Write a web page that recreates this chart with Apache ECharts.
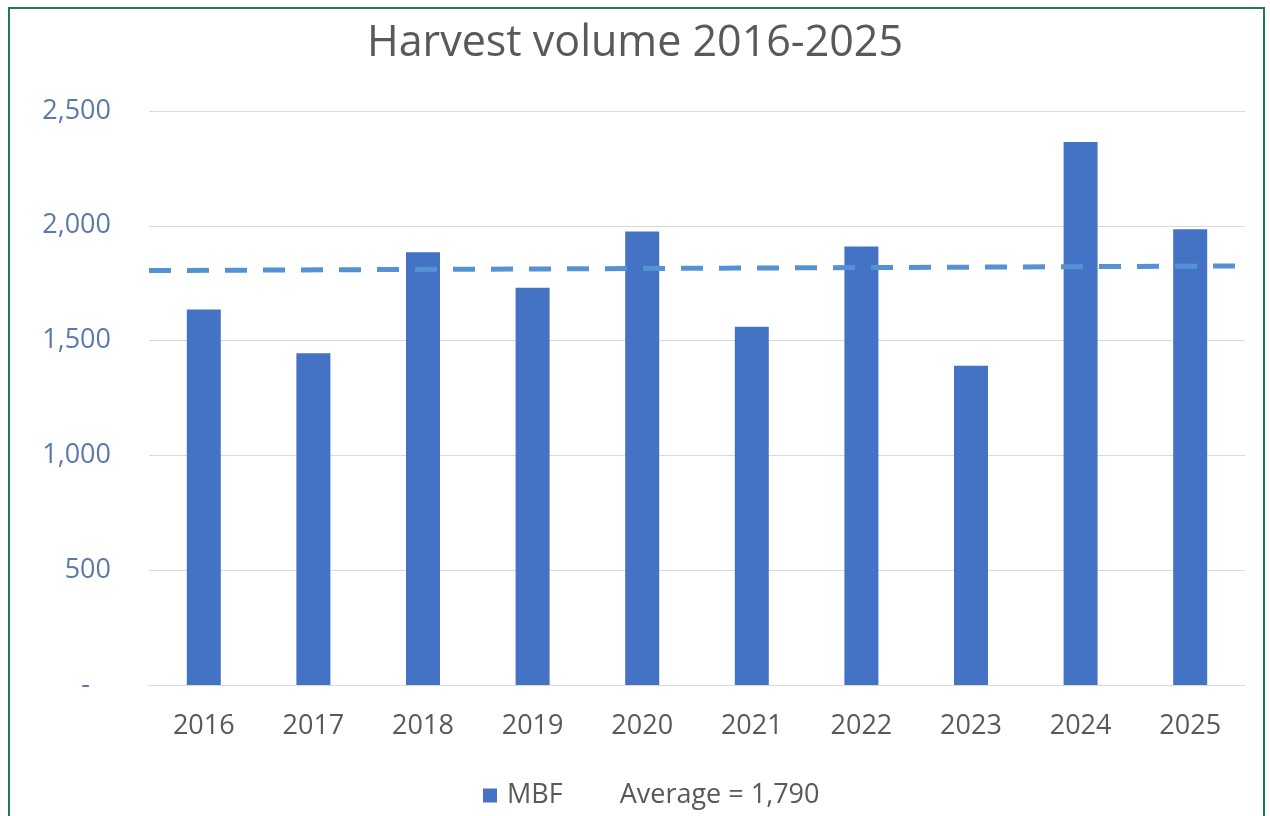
<!DOCTYPE html>
<html>
<head>
<meta charset="utf-8">
<script src="https://cdn.jsdelivr.net/npm/echarts@6/dist/echarts.min.js"></script>
<style>
	html, body { margin: 0; padding: 0; background: #fff; }
	#frame { position: absolute; left: 8px; top: 7px; width: 1257px; height: 830px; border: 2px solid #1f7a5c; box-sizing: border-box; }
	#chart { position: absolute; left: 0; top: 0; width: 1270px; height: 816px; }
</style>
</head>
<body>
<div id="frame"></div>
<div id="chart"></div>
<script>
	// years on the x axis
	var years = ['2016', '2017', '2018', '2019', '2020', '2021', '2022', '2023', '2024', '2025'];
	// harvest volume, MBF
	var volume = [1635, 1445, 1885, 1730, 1975, 1560, 1910, 1390, 2365, 1985];
	// dashed average line, read at the left and right edge of the plot
	var avgEnds = ['start', 'end'];
	var avgLine = [1805, 1825];
	var yTicks = [0, 500, 1000, 1500, 2000, 2500];

	var chart = echarts.init(document.getElementById('chart'));
	var font = '"Open Sans", "Noto Sans", sans-serif';

	chart.setOption({
		animation: false,
		textStyle: { fontFamily: font },
		title: {
			text: 'Harvest volume 2016-2025',
			left: 'center',
			top: 17,
			textStyle: { fontFamily: font, fontSize: 43, fontWeight: 'normal', color: '#595959' }
		},
		legend: {
			bottom: 2,
			left: 478,
			itemGap: 33,
			itemWidth: 14,
			itemHeight: 14,
			textStyle: { fontFamily: font, fontSize: 27, color: '#595959', padding: [0, 0, 0, 5] },
			data: [
				{ name: 'MBF', icon: 'rect' },
				{ name: 'Average = 1,790', icon: 'none' }
			]
		},
		grid: { left: 149, right: 25, top: 111, bottom: 131 },
		xAxis: [{
			type: 'category',
			data: years,
			axisLine: { lineStyle: { color: '#d9d9d9', width: 1 } },
			axisTick: { show: false },
			axisLabel: { fontFamily: font, fontSize: 27, color: '#595959', margin: 28 }
		}, {
			type: 'category',
			data: avgEnds,
			boundaryGap: false,
			show: false
		}],
		yAxis: {
			type: 'value',
			min: yTicks[0],
			max: yTicks[yTicks.length - 1],
			interval: 500,
			axisLine: { show: false },
			axisTick: { show: false },
			splitLine: { lineStyle: { color: '#d9d9d9', width: 1 } },
			axisLabel: {
				fontFamily: font, fontSize: 27, color: '#5b7aab', margin: 38,
				formatter: function (v) { return v === 0 ? '-   ' : v.toLocaleString('en-US'); }
			}
		},
		series: [{
			name: 'MBF',
			type: 'bar',
			data: volume,
			barWidth: 34,
			itemStyle: { color: '#4472c4' }
		}, {
			name: 'Average = 1,790',
			type: 'line',
			xAxisIndex: 1,
			data: avgLine,
			symbol: 'none',
			z: 3,
			lineStyle: { color: '#5592d2', width: 5, type: [22, 16] },
			itemStyle: { color: '#5592d2' }
		}]
	});
</script>
</body>
</html>
